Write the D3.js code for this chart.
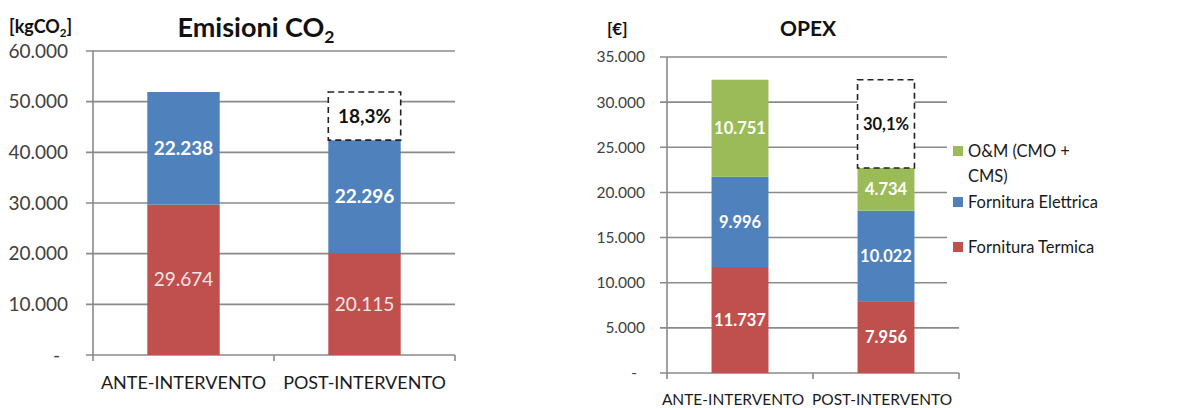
<!DOCTYPE html>
<html>
<head>
<meta charset="utf-8">
<script src="https://cdn.jsdelivr.net/npm/d3@7"></script>
<style>
  body { margin: 0; background: #fff; }
  svg { font-family: Lato, "Open Sans", sans-serif; }
  .tick-label { fill: #404040; }
  .cat-label { fill: #1a1a1a; }
</style>
</head>
<body>
<svg id="chart" width="1190" height="408"></svg>
<script>
// Data
const categories = ["ANTE-INTERVENTO", "POST-INTERVENTO"];
const seriesNames = ["Fornitura Termica", "Fornitura Elettrica", "O&M (CMO + CMS)"];
const seriesColors = ["#C0504D", "#4F81BD", "#9BBB59"];

const co2Termica = [29674, 20115];
const co2Elettrica = [22238, 22296];
const co2Ticks = [0, 10000, 20000, 30000, 40000, 50000, 60000];
const co2Reduction = "18,3%";

const opexTermica = [11737, 7956];
const opexElettrica = [9996, 10022];
const opexOM = [10751, 4734];
const opexTicks = [0, 5000, 10000, 15000, 20000, 25000, 30000, 35000];
const opexReduction = "30,1%";

// Italian number format
const it = d3.formatLocale({ decimal: ",", thousands: ".", grouping: [3], currency: ["€", ""] });
const fmt = it.format(",.0f");

const svg = d3.select("#chart");
const gridColor = "#8a8a8a";

function drawChart(opts) {
  const g = svg.append("g");
  const keys = opts.series.map((s, i) => i);
  const rows = categories.map((c, j) => {
    const r = { cat: c };
    opts.series.forEach((s, i) => r[i] = s[j]);
    return r;
  });
  const stacked = d3.stack().keys(keys)(rows);
  const totals = rows.map(r => d3.sum(keys, k => r[k]));

  const y = d3.scaleLinear().domain([0, opts.max]).range([opts.bottom, opts.top]);
  const x = d3.scaleBand().domain(categories).range([opts.left, opts.right]);
  const barW = x.bandwidth() * opts.barFrac;

  // gridlines
  g.selectAll(".grid")
    .data(opts.ticks)
    .enter()
    .append("line")
    .attr("x1", opts.left - 7)
    .attr("x2", d => (opts.gridEnd && d > opts.gridCutBelow) ? opts.gridEnd : opts.right)
    .attr("y1", d => y(d))
    .attr("y2", d => y(d))
    .attr("stroke", gridColor)
    .attr("stroke-width", 1.6);

  // y axis line
  g.append("line")
    .attr("x1", opts.left).attr("x2", opts.left)
    .attr("y1", y(opts.max)).attr("y2", opts.bottom)
    .attr("stroke", gridColor).attr("stroke-width", 1.6);

  // x ticks
  const xt = [opts.left, ...categories.map(c => x(c) + x.bandwidth())];
  g.selectAll(".xtick")
    .data(xt)
    .enter()
    .append("line")
    .attr("x1", d => d).attr("x2", d => d)
    .attr("y1", opts.bottom).attr("y2", opts.bottom + 6)
    .attr("stroke", gridColor).attr("stroke-width", 1.6);

  // y tick labels
  g.selectAll(".ylab")
    .data(opts.ticks)
    .enter()
    .append("text")
    .attr("class", "tick-label")
    .attr("font-size", opts.fs)
    .attr("x", d => d === 0 ? opts.left - opts.labGap - 8 : opts.left - opts.labGap)
    .attr("y", d => y(d))
    .attr("dy", "0.35em")
    .attr("text-anchor", "end")
    .text(d => d === 0 ? "-" : fmt(d));

  // bars
  stacked.forEach((layer, i) => {
    g.selectAll(".bar" + i)
      .data(layer)
      .enter()
      .append("rect")
      .attr("x", d => x(d.data.cat) + (x.bandwidth() - barW) / 2)
      .attr("width", barW)
      .attr("y", d => y(d[1]))
      .attr("height", d => y(d[0]) - y(d[1]))
      .attr("fill", seriesColors[i]);

    g.selectAll(".val" + i)
      .data(layer)
      .enter()
      .append("text")
      .attr("x", d => x(d.data.cat) + x.bandwidth() / 2)
      .attr("y", d => (y(d[0]) + y(d[1])) / 2)
      .attr("dy", "0.35em")
      .attr("text-anchor", "middle")
      .attr("fill", opts.lightFirst && i === 0 ? "#f6e4e4" : "#fff")
      .attr("font-weight", opts.lightFirst && i === 0 ? "normal" : "bold")
      .attr("font-size", opts.valFs)
      .text(d => fmt(d[1] - d[0]));
  });

  // reduction box
  const post = categories[1];
  const bx = x(post) + (x.bandwidth() - barW) / 2;
  g.append("rect")
    .attr("x", bx)
    .attr("width", barW)
    .attr("y", y(totals[0]))
    .attr("height", y(totals[1]) - y(totals[0]))
    .attr("fill", "#fff")
    .attr("stroke", "#222")
    .attr("stroke-width", 1.6)
    .attr("stroke-dasharray", "6,4");
  g.append("text")
    .attr("x", bx + barW / 2)
    .attr("y", (y(totals[0]) + y(totals[1])) / 2)
    .attr("dy", "0.35em")
    .attr("text-anchor", "middle")
    .attr("font-weight", "bold")
    .attr("font-size", opts.valFs)
    .attr("fill", "#111")
    .text(opts.reduction);

  // category labels
  g.selectAll(".cat")
    .data(categories)
    .enter()
    .append("text")
    .attr("class", "cat-label")
    .attr("font-size", opts.catFs)
    .attr("x", (d, i) => x(d) + x.bandwidth() / 2 + opts.catDx[i])
    .attr("y", opts.catY)
    .attr("text-anchor", "middle")
    .text(d => d);

  // unit label
  const u = g.append("text")
    .attr("x", opts.unitX)
    .attr("y", opts.unitY)
    .attr("font-weight", "bold")
    .attr("font-size", opts.unitFs)
    .attr("fill", "#111");
  opts.unit.forEach(p => u.append("tspan")
    .attr("font-size", p.sub ? opts.unitFs * 0.65 : opts.unitFs)
    .attr("dy", p.sub ? 4 : (p.after ? -4 : 0))
    .text(p.t));

  // title
  const t = g.append("text")
    .attr("x", opts.titleX)
    .attr("y", opts.titleY)
    .attr("text-anchor", "middle")
    .attr("font-weight", "bold")
    .attr("font-size", opts.titleFs)
    .attr("fill", "#111");
  opts.title.forEach(p => t.append("tspan")
    .attr("font-size", p.sub ? opts.titleFs * 0.65 : opts.titleFs)
    .attr("dy", p.sub ? 6 : 0)
    .text(p.t));

  return { g, y };
}

drawChart({
  series: [co2Termica, co2Elettrica],
  ticks: co2Ticks, max: 60000,
  top: 51, bottom: 355, left: 93, right: 455,
  barFrac: 0.4, lightFirst: true,
  reduction: co2Reduction,
  fs: 19, labGap: 25, valFs: 19, catFs: 18,
  catY: 389, catDx: [0, 0],
  unit: [{ t: "[kgCO" }, { t: "2", sub: true }, { t: "]", after: true }],
  unitFs: 18, unitX: 9, unitY: 33,
  title: [{ t: "Emisioni CO" }, { t: "2", sub: true }],
  titleFs: 27, titleX: 256, titleY: 37
});

drawChart({
  series: [opexTermica, opexElettrica, opexOM],
  ticks: opexTicks, max: 35000,
  top: 57, bottom: 373, left: 667, right: 959,
  gridEnd: 947, gridCutBelow: 5000,
  barFrac: 0.39, lightFirst: false,
  reduction: opexReduction,
  fs: 15.5, labGap: 22, valFs: 16.5, catFs: 15.5,
  catY: 405, catDx: [-7, -4],
  unit: [{ t: "[€]" }],
  unitFs: 17, unitX: 607, unitY: 35,
  title: [{ t: "OPEX" }],
  titleFs: 21, titleX: 808, titleY: 36
});

// legend (top entry first)
const legendItems = [
  { lines: ["O&M (CMO +", "CMS)"], color: seriesColors[2], y: 151 },
  { lines: [seriesNames[1]], color: seriesColors[1], y: 202 },
  { lines: [seriesNames[0]], color: seriesColors[0], y: 247 }
];
const lg = svg.append("g");
legendItems.forEach(item => {
  lg.append("rect")
    .attr("x", 953).attr("y", item.y - 5)
    .attr("width", 10).attr("height", 10)
    .attr("fill", item.color);
  const tx = lg.append("text")
    .attr("x", 968).attr("y", item.y)
    .attr("font-size", 16.5)
    .attr("fill", "#1a1a1a");
  item.lines.forEach((l, i) => tx.append("tspan").attr("x", 968).attr("dy", i === 0 ? "0.35em" : 25).text(l));
});
</script>
</body>
</html>
